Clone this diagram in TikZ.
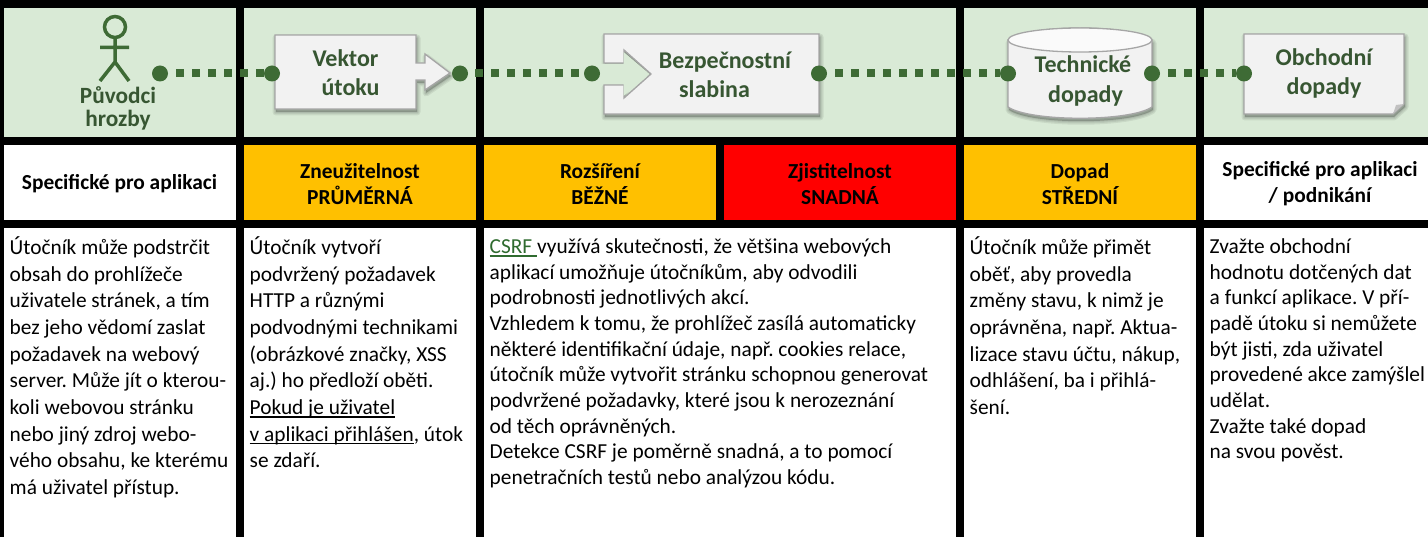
\documentclass[tikz,border=0pt]{standalone}
\usepackage{fontspec}
\setmainfont{Carlito}
\usetikzlibrary{calc}
\definecolor{gfill}{HTML}{D9EAD6}
\definecolor{gdark}{HTML}{3E6B35}
\definecolor{gtext}{HTML}{375632}
\definecolor{amber}{HTML}{FFC000}
\definecolor{boxf}{HTML}{F2F2F2}
\definecolor{boxe}{HTML}{A6A6A6}
\definecolor{linkg}{HTML}{2F6B2F}
\newcommand\myul[1]{\setbox0\hbox{#1}\rlap{\rule[-3pt]{\wd0}{1.2pt}}\box0}
\tikzset{
 x=1pt,y=-1pt,
 lab/.style={font=\fontsize{24}{29}\selectfont\bfseries,text=gtext,align=center,inner sep=0pt},
 labt/.style={font=\fontsize{23.3}{22.5}\selectfont\bfseries,text=gtext,align=center,inner sep=0pt},
 head/.style={font=\fontsize{21.4}{26}\selectfont\bfseries,text=black,align=center,inner sep=0pt},
 body/.style={font=\fontsize{21.35}{26.7}\selectfont\frenchspacing,text=black,align=left,anchor=north west,inner sep=0pt},
 bodyb/.style={body,font=\fontsize{21.35}{25.67}\selectfont\frenchspacing},
 sh/.style={draw=black,fill=black,opacity=.07,line width=#1,line join=round,transform canvas={xshift=1pt,yshift=-3pt}},
 shape box/.style={preaction={sh=7pt},preaction={sh=4.5pt},preaction={sh=2pt},draw=boxe,line width=1.3pt,fill=boxf},
 dot/.style={circle,fill=gdark,minimum size=16pt,inner sep=0pt},
 link/.style={draw=gdark,line width=8pt,dash pattern=on 8pt off 8pt,dash phase=8pt},
 actor/.style={draw=gdark,line width=3.5pt},
}
\begin{document}
\begin{tikzpicture}
\useasboundingbox (0,0) rectangle (1428,537);
\fill[black] (0,0) rectangle (1428,537);
% green row
\foreach \a/\b in {4/236,244/476,484/956,964/1196,1204/1428}{\fill[gfill] (\a,8) rectangle (\b,137);}
% row 2
\fill[white] (4,145) rectangle (236,220);
\fill[amber] (244,145) rectangle (476,220);
\fill[amber] (484,145) rectangle (716,220);
\fill[red] (724,145) rectangle (956,220);
\fill[amber] (964,145) rectangle (1196,220);
\fill[white] (1204,145) rectangle (1428,220);
% row 3
\foreach \a/\b in {4/236,244/476,484/956,964/1196,1204/1428}{\fill[white] (\a,228) rectangle (\b,537);}
% actor
\draw[actor] (115,27) circle (10.5);
\draw[actor] (115,38) -- (115,62) (100,47.5) -- (129,47.5) (100,81) -- (115,62) -- (129,81);
\node[labt] (n1) at (118,108.5) {Původci\\hrozby};
% vector
\path[shape box] (275,35) -- (416,35) -- (416,63) -- (425,63) -- (425,54) -- (450,73) -- (425,90) -- (425,80) -- (416,80) -- (416,109) -- (275,109) -- cycle;
\node[lab] (n2) at (345.5,73) {Vektor\\\hspace*{10pt}útoku};
% weakness
\path[shape box] (604,34) -- (819,34) -- (819,114) -- (604,114) -- (604,85) -- (624,85) -- (624,98) -- (651,74) -- (624,50) -- (624,63) -- (604,63) -- cycle;
\fill[gfill] (600,64) -- (623.5,64) -- (623.5,52) -- (649.5,74) -- (623.5,96) -- (623.5,84) -- (600,84) -- cycle;
\node[lab] (n3) at (725,75) {Bezpečnostní\\slabina\hspace*{21pt}};
% cylinder
\path[shape box] (1008,40) -- (1008,107) .. controls (1030,122) and (1130,122) .. (1152,107) -- (1152,40) .. controls (1130,24) and (1030,24) .. (1008,40) -- cycle;
\path[draw=boxe,line width=1.3pt,fill=white!60!boxf] (1080,40) ellipse [x radius=72,y radius=12];
\node[lab,font=\fontsize{24}{30}\selectfont\bfseries] (n4) at (1083,81) {Technické\\\hspace*{5pt}dopady};
% note
\path[shape box] (1244,34) -- (1404,34) -- (1404,104) -- (1393,114) -- (1244,114) -- cycle;
\fill[boxe!70] (1393,114) -- (1396,105) -- (1404,104) -- cycle;
\node[lab] (n5) at (1324,73.5) {Obchodní\\dopady};
% dots and links
\node[dot] (a) at (160,73.5) {};
\node[dot] (b) at (272,73.5) {};
\node[dot] (c) at (460,73.5) {};
\node[dot] (d) at (592,73.5) {};
\node[dot] (e) at (819,73.5) {};
\node[dot] (f) at (1008,73.5) {};
\node[dot] (g) at (1152,73.5) {};
\node[dot] (h) at (1244,73.5) {};
\draw[link] (a) -- (b);
\draw[link,dash phase=9pt] (c) -- (d);
\draw[link] (e) -- (f);
\draw[link] (g) -- (h);
% headers
\node[head] (h1) at (119.5,183.5) {Specifické pro aplikaci};
\node[head] (h2) at (360,184) {Zneužitelnost\\PRŮMĚRNÁ};
\node[head] (h3) at (600,184) {Rozšíření\\BĚŽNÉ};
\node[head] (h4) at (840,184) {Zjistitelnost\\SNADNÁ};
\node[head] (h5) at (1080,184) {Dopad\\STŘEDNÍ};
\node[head] (h6) at (1320,184) {Specifické pro aplikaci\\/ podnikání};
% body
\node[body] (t1) at (9.5,236.3) {Útočník může podstrčit\\obsah do prohlížeče\\uživatele stránek, a tím\\bez jeho vědomí zaslat\\požadavek na webový\\server. Může jít o kterou-\\koli webovou stránku\\nebo jiný zdroj webo-\\vého obsahu, ke kterému\\má uživatel přístup.};
\node[body] (t2) at (249.5,236.3) {Útočník vytvoří\\podvržený požadavek\\HTTP a různými\\podvodnými technikami\\(obrázkové značky, XSS\\aj.) ho předloží oběti.\\\myul{Pokud je uživatel}\\\myul{v aplikaci přihlášen}, útok\\se zdaří.};
\node[bodyb] (t3) at (489.5,238.5) {{\color{linkg}\myul{CSRF }}využívá skutečnosti, že většina webových\\aplikací umožňuje útočníkům, aby odvodili\\podrobnosti jednotlivých akcí.\\Vzhledem k tomu, že prohlížeč zasílá automaticky\\některé identifikační údaje, např. cookies relace,\\útočník může vytvořit stránku schopnou generovat\\podvržené požadavky, které jsou k nerozeznání\\od těch oprávněných.\\Detekce CSRF je poměrně snadná, a to pomocí\\penetračních testů nebo analýzou kódu.};
\node[body] (t4) at (969.5,236.3) {Útočník může přimět\\oběť, aby provedla\\změny stavu, k nimž je\\oprávněna, např. Aktua-\\lizace stavu účtu, nákup,\\odhlášení, ba i přihlá-\\šení.};
\node[bodyb] (t5) at (1209.5,238.5) {Zvažte obchodní\\hodnotu dotčených dat\\a funkcí aplikace. V pří-\\padě útoku si nemůžete\\být jisti, zda uživatel\\provedené akce zamýšlel\\udělat.\\Zvažte také dopad\\na svou pověst.};
\end{tikzpicture}
\end{document}
